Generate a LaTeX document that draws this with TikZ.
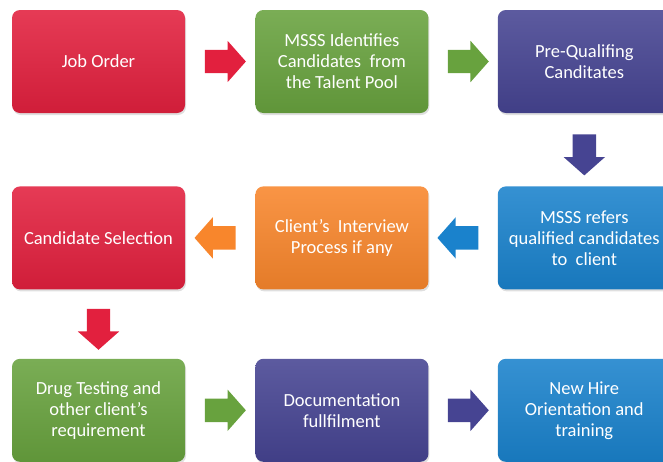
\documentclass[tikz,border=0pt]{standalone}
\usepackage{fontspec}
\setmainfont{Carlito}
\usetikzlibrary{positioning}
\usetikzlibrary{calc}
\usetikzlibrary{shapes.arrows}
\usetikzlibrary{shadows}

\definecolor{hirered}{RGB}{226,32,62}
\definecolor{hiregreen}{RGB}{104,162,62}
\definecolor{hirepurple}{RGB}{70,68,146}
\definecolor{hireorange}{RGB}{248,134,44}
\definecolor{hireblue}{RGB}{26,130,204}

\begin{document}
\begin{tikzpicture}[x=1pt,y=-1pt,
    box/.style={rounded corners=8pt, minimum width=173pt, minimum height=103pt,
      align=center, text=white, font=\fontsize{18.5}{21}\selectfont,
      top color=#1!88!white, bottom color=#1!92!black,
      drop shadow={opacity=0.25, shadow xshift=1pt, shadow yshift=-2pt}},
    flow/.style={single arrow, single arrow head extend=9pt, single arrow tip angle=97,
      inner xsep=0pt, inner ysep=11.5pt, minimum width=37pt, minimum height=41pt, fill=#1}]

    \useasboundingbox (0,0) rectangle (663,461);

    % first row, left to right
    \node[box=hirered] (order) at (98.5,61.5) {Job Order};
    \node[box=hiregreen, right=70pt of order] (identify) {MSSS Identifies\\Candidates\ \ from\\the Talent Pool};
    \node[box=hirepurple, right=69pt of identify] (prequal) {Pre-Qualifing\\Canditates};

    % second row, right to left
    \node[box=hireblue, below=73pt of prequal] (refer) {MSSS refers\\qualified candidates\\to\ \ client};
    \node[box=hireorange, below=73pt of identify] (interview) {Client's\ \ Interview\\Process if any};
    \node[box=hirered, below=73pt of order] (select) {Candidate Selection};

    % third row, left to right
    \node[box=hiregreen, below=69pt of select] (drug) {Drug Testing and\\other client's\\requirement};
    \node[box=hirepurple, right=70pt of drug] (docs) {Documentation\\fullfilment};
    \node[box=hireblue, right=69pt of docs] (orient) {New Hire\\Orientation and\\training};

    % block arrows between the steps
    \node[flow=hirered] (a1) at ($(order.east)!0.5!(identify.west)$) {};
    \node[flow=hiregreen] (a2) at ($(identify.east)!0.5!(prequal.west)$) {};
    \node[flow=hirepurple, rotate=-90] (a3) at ($(prequal.south)!0.5!(refer.north)$) {};
    \node[flow=hireblue, rotate=180] (a4) at ($(refer.west)!0.5!(interview.east)$) {};
    \node[flow=hireorange, rotate=180] (a5) at ($(interview.west)!0.5!(select.east)$) {};
    \node[flow=hirered, rotate=-90] (a6) at ($(select.south)!0.5!(drug.north)$) {};
    \node[flow=hiregreen] (a7) at ($(drug.east)!0.5!(docs.west)$) {};
    \node[flow=hirepurple] (a8) at ($(docs.east)!0.5!(orient.west)$) {};
\end{tikzpicture}
\end{document}
